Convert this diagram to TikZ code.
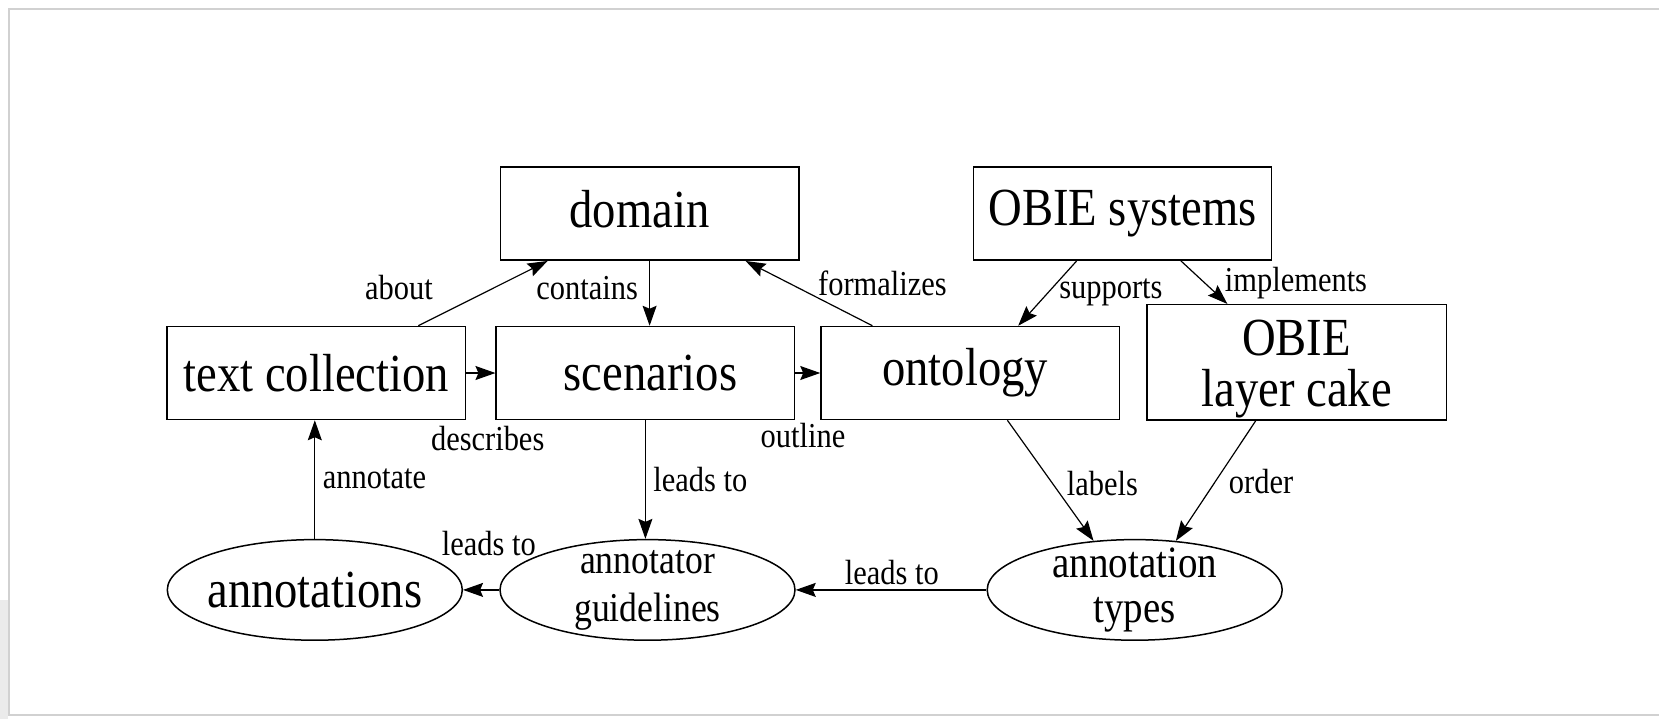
\documentclass[tikz,border=0pt]{standalone}
\usepackage{fontspec}
\setmainfont{Liberation Serif}
\usetikzlibrary{arrows.meta,shapes.geometric,calc}
\newcommand{\sq}[1]{\scalebox{0.87}[1]{#1}}
\begin{document}
\begin{tikzpicture}[x=0.5pt,y=-0.5pt,
  box/.style={draw,line width=0.75pt,rectangle,minimum width=149.2pt,minimum height=46.5pt,inner sep=0pt,font=\fontsize{26.8}{30}\selectfont},
  oval/.style={draw,line width=0.75pt,ellipse,minimum width=147.5pt,minimum height=50.3pt,inner sep=0pt},
  lbl/.style={inner sep=0pt,font=\fontsize{17.5}{20}\selectfont},
  arr/.style={-{Stealth[length=10pt,width=7pt,inset=1.5pt]},line width=0.6pt}]
\useasboundingbox (0,0) rectangle (1659,719);
\fill[white] (0,0) rectangle (1659,719);
\draw[black!18,line width=1pt] (1670,8.5) -- (8.5,8.5) -- (8.5,715) -- (1670,715);
\fill[black!8] (0,600) rectangle (8,719);
% boxes
\node[box] (domain) at (649.6,213.7) {};
\node[inner sep=0pt,font=\fontsize{26.8}{30}\selectfont] (domainT) at ($(domain)+(-10,-5)$) {\sq{domain}};
\node[box] (obie) at (1122.5,213.7) {\sq{OBIE systems}};
\node[box] (tc) at (316.3,373) {\sq{text collection}};
\node[box] (scen) at (645.4,373) {\kern5pt\sq{scenarios}};
\node[box] (onto) at (970.2,373) {\sq{ontology}\kern5pt};
\node[box,minimum width=149.7pt,minimum height=57.7pt] (cake) at (1296.6,362.4) {};
\node[inner sep=0pt,align=center,font=\fontsize{26.8}{25.6}\selectfont] (cakeT) at ($(cake)+(0,7)$) {\sq{OBIE}\\\sq{layer cake}};
% ellipses
\node[oval] (ann) at (314.8,589.9) {};
\node[oval] (guide) at (647.5,589.9) {};
\node[oval] (types) at (1134.7,589.9) {};
\node[inner sep=0pt,font=\fontsize{26.8}{30}\selectfont] (annT) at (ann) {\sq{annotations}};
\node[inner sep=0pt,align=center,font=\fontsize{20.5}{24}\selectfont] (guideT) at (guide) {\sq{annotator}\\\sq{guidelines}};
\node[inner sep=0pt,align=center,font=\fontsize{22.4}{22.8}\selectfont] (typesT) at (types) {\sq{annotation}\\\sq{types}};
% connectors
\draw[arr] ($(tc.north west)!0.84!(tc.north east)$) -- ($(domain.south west)!0.16!(domain.south east)$);
\draw[arr] (domain.south) -- (domain.south |- scen.north);
\draw[arr] ($(onto.north west)!0.174!(onto.north east)$) -- ($(domain.south west)!0.82!(domain.south east)$);
\draw[arr] ($(obie.south west)!0.347!(obie.south east)$) -- ($(onto.north west)!0.66!(onto.north east)$);
\draw[arr] ($(obie.south west)!0.695!(obie.south east)$) -- ($(cake.north west)!0.27!(cake.north east)$);
\draw[arr] (tc.east) -- (scen.west);
\draw[arr] (scen.east) -- (onto.west);
\draw[arr] (scen.south) -- (scen.south |- guide.north);
\draw[arr] (ann.north) -- (ann.north |- tc.south);
\draw[arr] ($(onto.south west)!0.624!(onto.south east)$) -- (types.130);
\draw[arr] ($(cake.south west)!0.364!(cake.south east)$) -- (types.50);
\draw[arr] (types.west) -- (guide.east);
\draw[arr] (guide.west) -- (ann.east);
% labels
\node[lbl] (lAbout) at (398.9,287.8) {\sq{about}};
\node[lbl] (lContains) at (587.2,287.8) {\sq{contains}};
\node[lbl] (lFormal) at (882.4,283.5) {\sq{formalizes}};
\node[lbl] (lSupports) at (1110.9,292) {\sq{supports}};
\node[lbl] (lImpl) at (1296,283.5) {\sq{implements}};
\node[lbl] (lDescr) at (487.7,439) {\sq{describes}};
\node[lbl] (lOutline) at (803,435.9) {\sq{outline}};
\node[lbl] (lLeads1) at (700.4,479.3) {\sq{leads to}};
\node[lbl] (lAnnot) at (374.5,479.3) {\sq{annotate}};
\node[lbl] (lLabels) at (1102.4,483.5) {\sq{labels}};
\node[lbl] (lOrder) at (1261.1,481.4) {\sq{order}};
\node[lbl] (lLeads2) at (891.9,572.4) {\sq{leads to}};
\node[lbl] (lLeads3) at (488.8,543.8) {\sq{leads to}};
\end{tikzpicture}
\end{document}
